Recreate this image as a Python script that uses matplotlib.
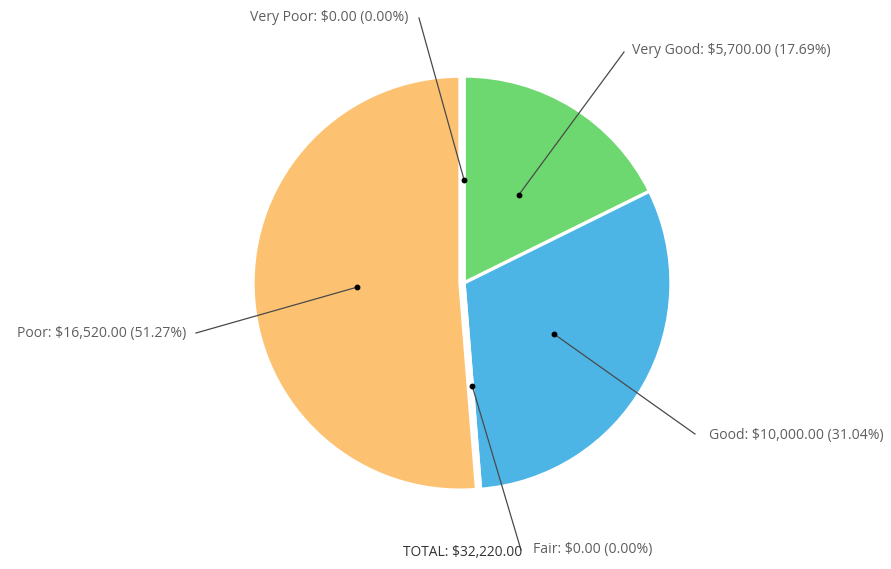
import numpy as np
import matplotlib
matplotlib.use("Agg")
import matplotlib.pyplot as plt

# Ratings and amounts, in drawing order (clockwise from 12 o'clock)
categories = ["Very Good", "Good", "Fair", "Poor", "Very Poor"]
amounts = [5700.00, 10000.00, 0.00, 16520.00, 0.00]
colors = ["#6dd86f", "#4db4e6", "#ffffff", "#fdc271", "#ffffff"]
# pull-out of each wedge, in pixels
explode = [0.0, 0.0, 0.0, 4.0, 0.0]

# Label anchor points (pixel coords, y from top) and alignment
label_pos = {
    "Very Good": ((632, 50), "left", (624, 52)),
    "Good": ((709, 436), "left", (695, 434)),
    "Fair": ((533, 550), "left", (521, 550)),
    "Poor": ((186, 334), "right", (196, 333)),
    "Very Poor": ((408, 17), "right", (419, 18)),
}

W, H = 891, 569
fig = plt.figure(figsize=(W / 100, H / 100), dpi=100)
ax = fig.add_axes([0, 0, 1, 1])
ax.set_xlim(0, W)
ax.set_ylim(0, H)
ax.axis("off")

cx, cy, R = 464, H - 283, 207
wedges, _ = ax.pie(
    amounts, startangle=90, counterclock=False, colors=colors,
    center=(cx, cy), radius=R, explode=explode,
    wedgeprops=dict(edgecolor="white", linewidth=2.4),
)
ax.set_xlim(0, W)
ax.set_ylim(0, H)
ax.set_aspect("equal")

total = sum(amounts)
font = ["Open Sans", "DejaVu Sans"]
start = 90.0
for name, val, w in zip(categories, amounts, wedges):
    sweep = 360.0 * val / total
    mid = np.deg2rad(start - sweep / 2)
    start -= sweep
    ccx, ccy = w.center
    px = ccx + 0.5 * R * np.cos(mid)
    py = ccy + 0.5 * R * np.sin(mid)
    (tx, ty), ha, (lx, ly) = label_pos[name]
    ax.plot([px, lx], [py, H - ly], color="#4a4a4a", lw=0.9, zorder=3)
    ax.plot(px, py, "o", color="black", ms=3.2, zorder=4)
    pct = 100.0 * val / total
    ax.text(tx, H - ty, f"{name}: ${val:,.2f} ({pct:.2f}%)", ha=ha, va="center",
            fontsize=10.1, color="#5e5e5e", family=font)

ax.text(522, H - 553, f"TOTAL: ${total:,.2f}", ha="right", va="center",
        fontsize=9.9, color="#333333", family=font)

fig.savefig("out.png", dpi=100)
